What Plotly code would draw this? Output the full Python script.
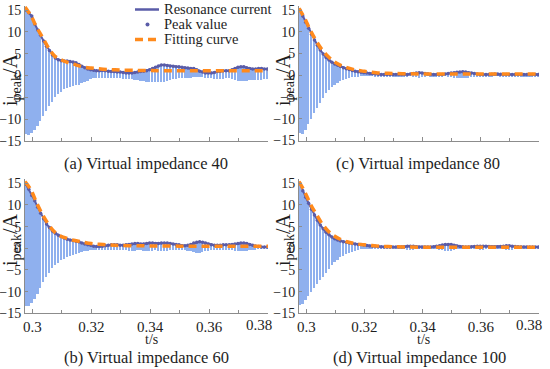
import numpy as np
import plotly.graph_objects as go

# ---------------- data ----------------
# time of each oscillation peak (s), one per sampled cycle
peak_t = np.round(0.2978 + 0.001 * np.arange(83), 4)

# (a) Virtual impedance 40
upper_a = [15.0, 14.4, 13.6, 11.8, 10.4, 9.2, 7.9, 6.7, 5.7, 4.7,
           4.0, 3.6, 3.4, 3.3, 3.3, 3.2, 3.1, 2.9, 2.5, 2.1,
           1.8, 1.5, 1.3, 1.2, 1.1, 1.1, 1.2, 1.1, 1.0, 0.9,
           0.9, 0.8, 0.8, 0.7, 0.6, 0.6, 0.6, 0.7, 0.8, 0.9,
           1.0, 1.1, 1.3, 1.6, 1.9, 2.2, 2.4, 2.4, 2.3, 2.2,
           2.1, 2.0, 2.0, 1.9, 1.8, 1.7, 1.6, 1.6, 1.3, 1.0,
           0.8, 0.6, 0.6, 0.6, 0.7, 0.9, 1.0, 1.1, 1.1, 1.1,
           1.3, 1.6, 1.9, 2.0, 2.0, 1.8, 1.6, 1.5, 1.5, 1.6,
           1.6, 1.5, 1.5]
lower_a = [-13.4, -13.6, -13.0, -12.3, -11.4, -10.4, -9.2, -8.0, -7.0, -5.9,
           -4.9, -4.2, -3.6, -3.1, -2.8, -2.6, -2.4, -2.2, -2.0, -1.7,
           -1.4, -1.1, -0.8, -0.6, -0.5, -0.5, -0.4, -0.4, -0.5, -0.5,
           -0.6, -0.6, -0.6, -0.7, -0.7, -0.7, -0.8, -0.9, -1.0, -1.1,
           -1.2, -1.3, -1.4, -1.5, -1.5, -1.5, -1.4, -1.3, -1.2, -1.0,
           -0.8, -0.7, -0.6, -0.5, -0.5, -0.4, -0.4, -0.3, -0.3, -0.3,
           -0.3, -0.4, -0.5, -0.6, -0.7, -0.8, -0.8, -0.7, -0.6, -0.6,
           -0.7, -0.9, -1.1, -1.2, -1.2, -1.1, -1.0, -1.0, -1.0, -0.9,
           -0.9, -0.8, -0.8]

# (b) Virtual impedance 60
upper_b = [14.8, 13.6, 12.2, 11.0, 9.5, 8.1, 6.8, 5.6, 4.8, 4.0,
           3.5, 3.0, 2.7, 2.4, 2.1, 1.9, 1.8, 1.6, 1.5, 1.2,
           1.0, 0.8, 0.7, 0.5, 0.4, 0.4, 0.5, 0.6, 0.7, 0.8,
           0.8, 0.8, 0.7, 0.7, 0.8, 0.9, 1.0, 1.1, 1.1, 1.0,
           1.0, 1.1, 1.2, 1.2, 1.1, 1.1, 1.2, 1.2, 1.2, 1.1,
           1.0, 0.9, 0.8, 0.6, 0.6, 0.7, 0.9, 1.2, 1.4, 1.5,
           1.4, 1.2, 1.0, 0.8, 0.7, 0.7, 0.7, 0.8, 0.8, 0.8,
           0.9, 1.0, 1.1, 1.2, 1.2, 1.1, 0.9, 0.7, 0.5, 0.4,
           0.3, 0.3, 0.3]
lower_b = [-13.2, -13.3, -12.6, -11.8, -10.5, -9.2, -7.8, -6.6, -5.6, -4.6,
           -3.8, -3.3, -2.8, -2.4, -2.1, -1.8, -1.5, -1.2, -1.0, -0.8,
           -0.6, -0.5, -0.4, -0.35, -0.3, -0.3, -0.35, -0.4, -0.4, -0.4,
           -0.4, -0.35, -0.35, -0.4, -0.45, -0.5, -0.5, -0.5, -0.45, -0.45,
           -0.5, -0.55, -0.55, -0.5, -0.45, -0.5, -0.55, -0.55, -0.5, -0.45,
           -0.4, -0.35, -0.3, -0.3, -0.35, -0.5, -0.7, -0.9, -1.0, -1.0,
           -0.9, -0.7, -0.5, -0.4, -0.35, -0.3, -0.3, -0.3, -0.35, -0.4,
           -0.45, -0.5, -0.55, -0.6, -0.6, -0.55, -0.45, -0.35, -0.3, -0.25,
           -0.2, -0.2, -0.2]

# (c) Virtual impedance 80
upper_c = [15.0, 13.6, 12.2, 10.8, 9.4, 8.1, 6.9, 5.8, 4.9, 4.1,
           3.5, 3.0, 2.6, 2.3, 2.0, 1.75, 1.5, 1.3, 1.1, 0.9,
           0.8, 0.7, 0.6, 0.5, 0.4, 0.35, 0.3, 0.25, 0.2, 0.2,
           0.2, 0.2, 0.2, 0.2, 0.2, 0.2, 0.2, 0.2, 0.3, 0.4,
           0.5, 0.55, 0.5, 0.4, 0.3, 0.2, 0.2, 0.2, 0.2, 0.2,
           0.3, 0.4, 0.5, 0.6, 0.7, 0.75, 0.8, 0.75, 0.6, 0.5,
           0.4, 0.3, 0.2, 0.2, 0.2, 0.2, 0.25, 0.3, 0.3, 0.25,
           0.2, 0.2, 0.2, 0.2, 0.2, 0.2, 0.2, 0.2, 0.2, 0.2,
           0.2, 0.2, 0.2]
lower_c = [-13.3, -13.5, -12.6, -11.2, -10.0, -8.7, -7.4, -6.2, -5.1, -4.1,
           -3.3, -2.7, -2.1, -1.7, -1.3, -1.0, -0.75, -0.55, -0.4, -0.3,
           -0.25, -0.2, -0.15, -0.15, -0.15, -0.15, -0.15, -0.15, -0.15, -0.15,
           -0.15, -0.15, -0.15, -0.15, -0.15, -0.15, -0.15, -0.15, -0.2, -0.3,
           -0.4, -0.45, -0.4, -0.3, -0.2, -0.15, -0.15, -0.15, -0.15, -0.15,
           -0.2, -0.3, -0.4, -0.5, -0.55, -0.6, -0.6, -0.55, -0.45, -0.35,
           -0.25, -0.15, -0.15, -0.15, -0.15, -0.15, -0.2, -0.2, -0.2, -0.15,
           -0.15, -0.15, -0.15, -0.15, -0.15, -0.15, -0.15, -0.15, -0.15, -0.15,
           -0.15, -0.15, -0.15]

# (d) Virtual impedance 100
upper_d = [15.0, 13.3, 11.8, 10.4, 9.0, 7.7, 6.5, 5.4, 4.5, 3.7,
           3.1, 2.6, 2.2, 1.9, 1.7, 1.5, 1.4, 1.2, 1.1, 1.0,
           0.9, 0.85, 0.75, 0.65, 0.55, 0.5, 0.45, 0.4, 0.35, 0.3,
           0.3, 0.3, 0.3, 0.3, 0.3, 0.3, 0.35, 0.45, 0.5, 0.45,
           0.35, 0.3, 0.3, 0.3, 0.3, 0.3, 0.35, 0.45, 0.6, 0.75,
           0.85, 0.9, 0.85, 0.7, 0.55, 0.4, 0.35, 0.3, 0.3, 0.35,
           0.4, 0.45, 0.5, 0.5, 0.45, 0.4, 0.35, 0.35, 0.35, 0.4,
           0.5, 0.6, 0.6, 0.5, 0.4, 0.35, 0.3, 0.3, 0.3, 0.3,
           0.3, 0.3, 0.3]
lower_d = [-13.0, -12.9, -12.0, -10.9, -10.0, -9.1, -8.2, -7.3, -6.5, -5.6,
           -4.7, -3.9, -3.2, -2.6, -2.1, -1.7, -1.3, -1.0, -0.75, -0.55,
           -0.4, -0.25, -0.2, -0.15, -0.15, -0.15, -0.15, -0.15, -0.15, -0.15,
           -0.15, -0.15, -0.15, -0.15, -0.15, -0.15, -0.2, -0.3, -0.35, -0.3,
           -0.2, -0.15, -0.15, -0.15, -0.15, -0.15, -0.15, -0.2, -0.3, -0.45,
           -0.55, -0.6, -0.5, -0.35, -0.2, -0.15, -0.15, -0.15, -0.15, -0.15,
           -0.15, -0.2, -0.3, -0.3, -0.25, -0.2, -0.15, -0.15, -0.15, -0.15,
           -0.2, -0.3, -0.35, -0.3, -0.2, -0.15, -0.15, -0.15, -0.15, -0.15,
           -0.15, -0.15, -0.15]

# fitting curves
fit_t = [0.2975, 0.2995, 0.3015, 0.3035, 0.3055, 0.3075, 0.3095, 0.3115, 0.314,
         0.317, 0.320, 0.324, 0.328, 0.333, 0.340, 0.350, 0.360, 0.370, 0.380]
fit_a = [15.7, 13.7, 11.0, 8.7, 6.3, 4.5, 3.7, 3.1, 2.6, 2.0, 1.7, 1.45, 1.3, 1.2, 1.12, 1.1, 1.1, 1.1, 1.1]
fit_b = [15.4, 13.5, 10.4, 7.7, 5.5, 3.8, 2.85, 2.35, 1.85, 1.45, 1.1, 0.85, 0.7, 0.6, 0.55, 0.5, 0.5, 0.5, 0.5]
fit_c = [15.4, 13.0, 10.2, 7.8, 5.8, 4.3, 3.2, 2.4, 1.75, 1.2, 0.9, 0.6, 0.45, 0.35, 0.3, 0.3, 0.3, 0.3, 0.3]
fit_d = [15.4, 13.0, 10.1, 7.8, 5.6, 4.0, 2.9, 2.15, 1.5, 1.05, 0.8, 0.55, 0.4, 0.3, 0.25, 0.25, 0.25, 0.25, 0.25]

x_tickvals = [0.30, 0.32, 0.34, 0.36, 0.38]
x_ticktext = ["0.3", "0.32", "0.34", "0.36", ""]   # last label drawn as annotation (edge)
x_last_label = "0.38"
x_minor = [0.31, 0.33, 0.35, 0.37]
y_tickvals = [-15, -10, -5, 0, 5, 10, 15]
captions = ["(a) Virtual impedance 40", "(b) Virtual impedance 60",
            "(c) Virtual impedance 80", "(d) Virtual impedance 100"]
legend_labels = ["Resonance current", "Peak value", "Fitting curve"]

for arr in (upper_a, lower_a, upper_b, lower_b, upper_c, lower_c, upper_d, lower_d):
    assert len(arr) == len(peak_t), len(arr)

# ---------------- styling ----------------
W, H = 550, 369
FONT = "Liberation Serif, Times New Roman, serif"
LIGHT = "#8fb0ee"
DARK = "#5a5ca8"
ORANGE = "#ff8a1c"
AXC = "#8c8c8c"
TXT = "#1e1e1e"


def fx(p):
    return p / W


def fy(p):
    return 1 - p / H


# pixel boxes: (left, right, y of -15, y of 15)
panels = [
    dict(up=upper_a, lo=lower_a, fit=fit_a, box=(25, 268, 141.0, 10.0), bottom=False,
         cap=captions[0], cap_xy=(146, 163), ttl_xy=(11, 80)),
    dict(up=upper_b, lo=lower_b, fit=fit_b, box=(25, 268, 313.3, 183.3), bottom=True,
         cap=captions[1], cap_xy=(146, 357), ttl_xy=(11, 240), ts_xy=(151, 339), last_xy=(259, 325)),
    dict(up=upper_c, lo=lower_c, fit=fit_c, box=(299, 539, 140.5, 10.0), bottom=False,
         cap=captions[2], cap_xy=(418, 163), ttl_xy=(284, 80)),
    dict(up=upper_d, lo=lower_d, fit=fit_d, box=(299, 539, 313.3, 183.3), bottom=True,
         cap=captions[3], cap_xy=(419, 357), ttl_xy=(284, 240), ts_xy=(423, 339), last_xy=(529, 325)),
]

fig = go.Figure()
annotations = []
layout_axes = {}
YMIN, YMAX = -15, 16

for i, p in enumerate(panels):
    n = "" if i == 0 else str(i + 1)
    xa, ya = "x" + n, "y" + n
    up = np.array(p["up"])
    lo = np.array(p["lo"])
    fig.add_trace(go.Bar(x=peak_t, y=up - lo, base=lo, width=0.0006,
                         marker=dict(color=LIGHT, line=dict(width=0)),
                         xaxis=xa, yaxis=ya, showlegend=False, hoverinfo="skip"))
    fig.add_trace(go.Scatter(x=peak_t, y=up, mode="lines",
                             line=dict(color=DARK, width=2),
                             xaxis=xa, yaxis=ya, showlegend=False, name=legend_labels[0]))
    fig.add_trace(go.Scatter(x=peak_t, y=up, mode="markers",
                             marker=dict(color=DARK, size=3.5),
                             xaxis=xa, yaxis=ya, showlegend=False, name=legend_labels[1]))
    fig.add_trace(go.Scatter(x=fit_t, y=p["fit"], mode="lines", line_shape="spline",
                             line=dict(color=ORANGE, width=3.5, dash="8px,5px"),
                             xaxis=xa, yaxis=ya, showlegend=False, name=legend_labels[2]))

    l, r, yb, yt = p["box"]
    ppu = (yb - yt) / 30.0
    ytop = yt - (YMAX - 15) * ppu
    layout_axes["xaxis" + n] = dict(
        domain=[fx(l), fx(r)], range=[0.2975, 0.38001], anchor=ya, automargin=False,
        showline=True, linecolor=AXC, linewidth=1, mirror=False,
        showgrid=False, zeroline=False,
        tickmode="array", tickvals=x_tickvals, ticktext=x_ticktext,
        ticks="inside", ticklen=4, tickcolor=AXC,
        minor=dict(tickvals=x_minor, ticks="inside", ticklen=3, tickcolor=AXC, showgrid=False),
        showticklabels=p["bottom"],
        tickfont=dict(family=FONT, size=15, color=TXT),
    )
    layout_axes["yaxis" + n] = dict(
        domain=[fy(yb), fy(ytop)], range=[YMIN, YMAX], anchor=xa, automargin=False,
        showline=True, linecolor=AXC, linewidth=1, mirror=False,
        showgrid=False, zeroline=False,
        tickmode="array", tickvals=y_tickvals,
        ticks="inside", ticklen=3, tickcolor=AXC,
        tickfont=dict(family=FONT, size=14, color=TXT),
        ticklabelstandoff=0,
    )
    annotations.append(dict(text=p["cap"], x=fx(p["cap_xy"][0]), y=fy(p["cap_xy"][1]),
                            xref="paper", yref="paper", showarrow=False,
                            xanchor="center", yanchor="middle",
                            font=dict(family=FONT, size=16.5, color=TXT)))
    annotations.append(dict(text="i<sub>peak</sub>/A", x=fx(p["ttl_xy"][0]), y=fy(p["ttl_xy"][1]),
                            xref="paper", yref="paper", showarrow=False, textangle=-90,
                            xanchor="center", yanchor="middle",
                            font=dict(family=FONT, size=20, color=TXT)))
    if p["bottom"]:
        annotations.append(dict(text="t/s", x=fx(p["ts_xy"][0]), y=fy(p["ts_xy"][1]),
                                xref="paper", yref="paper", showarrow=False,
                                xanchor="center", yanchor="middle",
                                font=dict(family=FONT, size=14, color=TXT)))
        annotations.append(dict(text=x_last_label, x=fx(p["last_xy"][0]), y=fy(p["last_xy"][1]),
                                xref="paper", yref="paper", showarrow=False,
                                xanchor="center", yanchor="middle",
                                font=dict(family=FONT, size=15, color=TXT)))

# manual legend (top of panel a)
leg_y = [9.5, 24.5, 39.5]
for lab, yy in zip(legend_labels, leg_y):
    annotations.append(dict(text=lab, x=fx(162), y=fy(yy), xref="paper", yref="paper",
                            showarrow=False, xanchor="left", yanchor="middle",
                            font=dict(family=FONT, size=14.5, color=TXT)))
shapes = [
    dict(type="line", xref="paper", yref="paper", x0=fx(135), x1=fx(159),
         y0=fy(leg_y[0]), y1=fy(leg_y[0]), line=dict(color=DARK, width=2.5)),
    dict(type="circle", xref="paper", yref="paper", x0=fx(145.5), x1=fx(149.5),
         y0=fy(leg_y[1] + 2), y1=fy(leg_y[1] - 2), fillcolor=DARK, line=dict(width=0)),
    dict(type="line", xref="paper", yref="paper", x0=fx(135), x1=fx(160),
         y0=fy(leg_y[2]), y1=fy(leg_y[2]), line=dict(color=ORANGE, width=3.5, dash="8px,5px")),
]

fig.update_layout(
    width=W, height=H,
    margin=dict(l=0, r=0, t=0, b=0),
    paper_bgcolor="white", plot_bgcolor="white",
    showlegend=False, bargap=0,
    annotations=annotations, shapes=shapes,
    **layout_axes,
)

fig.write_html("out.html", config={"displayModeBar": False},
               post_script="document.body.style.margin='0';document.body.style.overflow='hidden';")
